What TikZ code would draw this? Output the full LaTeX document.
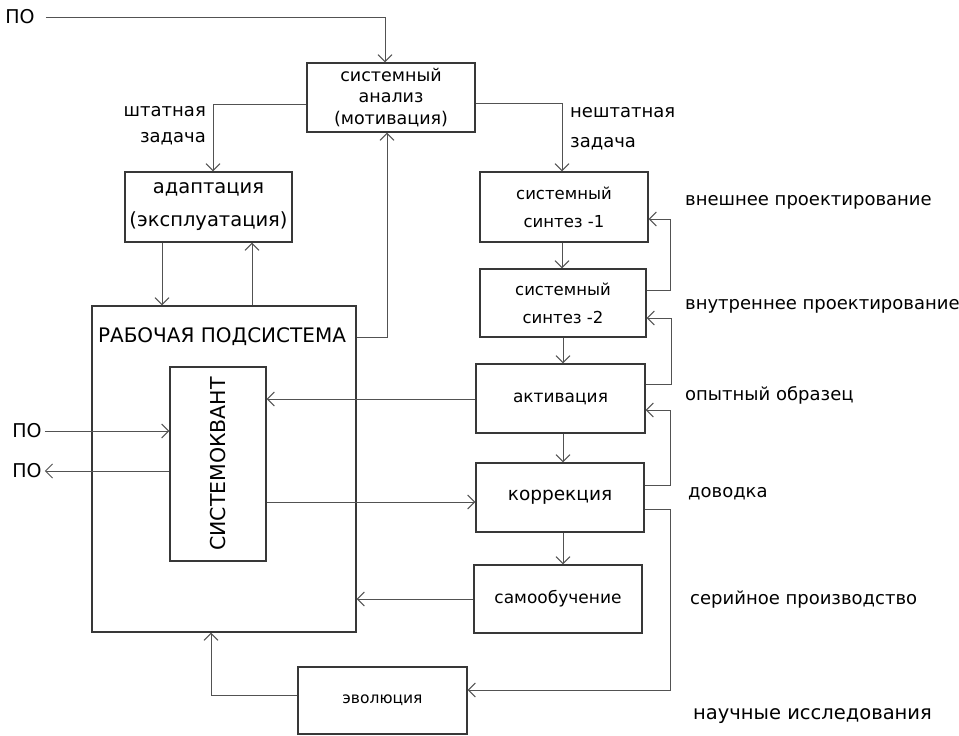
\documentclass[tikz,border=0pt]{standalone}
\usepackage{fontspec}
\setmainfont{DejaVu Sans}
\usetikzlibrary{arrows.meta}

\begin{document}
\begin{tikzpicture}[x=1pt,y=-1pt,
  blk/.style={draw=black!78,line width=1.3pt,align=center,inner sep=0pt},
  conn/.style={draw=black!68,line width=1pt,-{Straight Barb[length=7pt,width=14pt]}},
  wire/.style={draw=black!68,line width=1pt},
  lbl/.style={inner sep=0pt,font=\fontsize{18}{30}\selectfont}]
  \useasboundingbox (0,0) rectangle (959,736);
  % blocks
  \node[blk,minimum width=168pt,minimum height=69pt,font=\fontsize{17.5}{21.5}\selectfont] (analysis) at (391,97.5) {системный\\анализ\\(мотивация)};
  \node[blk,minimum width=167pt,minimum height=70pt,font=\fontsize{19.5}{33}\selectfont] (adapt) at (208.5,207) {адаптация\\(эксплуатация)};
  \node[blk,minimum width=168pt,minimum height=70pt,font=\fontsize{16.5}{28}\selectfont] (synth1) at (564,207) {системный\\синтез -1};
  \node[blk,minimum width=166pt,minimum height=68pt,font=\fontsize{16.5}{28}\selectfont] (synth2) at (563,303) {системный\\синтез -2};
  \node[blk,minimum width=169pt,minimum height=69pt,font=\fontsize{17}{20}\selectfont] (activ) at (560.5,398.5) {активация};
  \node[blk,minimum width=168pt,minimum height=69pt,font=\fontsize{18.5}{22}\selectfont] (korr) at (560,497.5) {коррекция};
  \node[blk,minimum width=168pt,minimum height=68pt,font=\fontsize{17}{20}\selectfont] (samo) at (558,599) {самообучение};
  \node[blk,minimum width=169pt,minimum height=67pt,font=\fontsize{15.5}{18}\selectfont] (evol) at (382.5,700.5) {эволюция};
  \node[blk,minimum width=264pt,minimum height=326pt] (main) at (224,469) {};
  \node[inner sep=0pt,font=\fontsize{20}{24}\selectfont] (mainlbl) at (222,337) {РАБОЧАЯ ПОДСИСТЕМА};
  \node[blk,minimum width=96pt,minimum height=194pt,font=\fontsize{20.5}{24}\selectfont] (kvant) at (218,464) {\rotatebox{90}{СИСТЕМОКВАНТ}};
  % inputs and outputs
  \node[lbl,font=\fontsize{19}{22}\selectfont] (potop) at (20,17) {ПО};
  \node[lbl,font=\fontsize{19}{22}\selectfont] (poin) at (27,431) {ПО};
  \node[lbl,font=\fontsize{19}{22}\selectfont] (poout) at (27,471) {ПО};
  % side labels
  \node[lbl,anchor=east,align=right,font=\fontsize{18}{26}\selectfont] (shtat) at (206,126) {штатная\\задача};
  \node[lbl,anchor=west,align=left,font=\fontsize{18}{30}\selectfont] (neshtat) at (570,129) {нештатная\\задача};
  \node[lbl,anchor=west] (ext) at (685,202) {внешнее проектирование};
  \node[lbl,anchor=west] (int) at (685,306) {внутреннее проектирование};
  \node[lbl,anchor=west] (proto) at (685,395) {опытный образец};
  \node[lbl,anchor=west] (dovod) at (688,494) {доводка};
  \node[lbl,anchor=west] (serial) at (690,600) {серийное производство};
  \node[lbl,anchor=west,font=\fontsize{19.5}{22}\selectfont] (science) at (693,716) {научные исследования};
  % connectors
  \draw[conn] ([xshift=11pt]potop.east) -| (analysis.north -| 385,0);
  \draw[conn] (analysis.west |- 0,104) -| (adapt.north -| 213,0);
  \draw[conn] (analysis.east |- 0,103) -| (synth1.north -| 562,0);
  \draw[conn] (adapt.south -| 162,0) -- (main.north -| 162,0);
  \draw[conn] (main.north -| 252,0) -- (adapt.south -| 252,0);
  \draw[conn] (main.east |- 0,337) -| (analysis.south -| 387,0);
  \draw[conn] (synth1.south -| 562,0) -- (synth2.north -| 562,0);
  \draw[conn] (synth2.east |- 0,290) -- (670,290) |- (synth1.east |- 0,219);
  \draw[conn] (synth2.south -| 563,0) -- (activ.north -| 563,0);
  \draw[conn] (activ.east |- 0,384) -- (671,384) |- (synth2.east |- 0,318);
  \draw[conn] (activ.south -| 563,0) -- (korr.north -| 563,0);
  \draw[conn] (korr.east |- 0,485) -- (670,485) |- (activ.east |- 0,410);
  \draw[conn] (korr.south -| 563,0) -- (samo.north -| 563,0);
  \draw[conn] (korr.east |- 0,509) -- (670,509) |- (evol.east |- 0,690);
  \draw[conn] (samo.west |- 0,599) -- (main.east |- 0,599);
  \draw[conn] (evol.west |- 0,695) -| (main.south -| 211,0);
  \draw[conn] (activ.west |- 0,399) -- (kvant.east |- 0,399);
  \draw[conn] (kvant.east |- 0,502) -- (korr.west |- 0,502);
  \draw[conn] ([xshift=3pt]poin.east) -- (kvant.west |- poin);
  \draw[conn] (kvant.west |- poout) -- ([xshift=3pt]poout.east);
\end{tikzpicture}
\end{document}
